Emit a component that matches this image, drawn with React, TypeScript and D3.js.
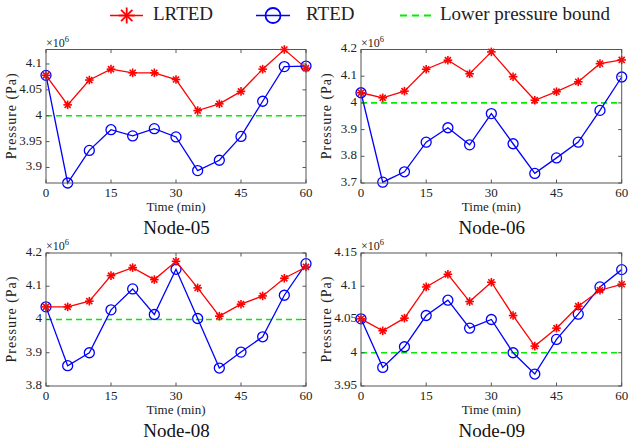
import React from "react";
import * as d3 from "d3";

const times = [0, 5, 10, 15, 20, 25, 30, 35, 40, 45, 50, 55, 60];
const xTicks = [0, 15, 30, 45, 60];

const nodeNames = ["Node-05", "Node-06", "Node-08", "Node-09"];

const lrted05 = [4.078, 4.021, 4.069, 4.09, 4.083, 4.083, 4.07, 4.01, 4.023, 4.047, 4.09, 4.128, 4.092];
const rted05 = [4.078, 3.87, 3.933, 3.973, 3.961, 3.975, 3.959, 3.894, 3.914, 3.96, 4.028, 4.095, 4.096];

const lrted06 = [4.038, 4.019, 4.044, 4.126, 4.16, 4.109, 4.191, 4.098, 4.01, 4.042, 4.079, 4.147, 4.161];
const rted06 = [4.038, 3.703, 3.742, 3.853, 3.907, 3.843, 3.96, 3.847, 3.736, 3.794, 3.853, 3.972, 4.097];

const lrted08 = [4.038, 4.038, 4.055, 4.132, 4.156, 4.12, 4.175, 4.095, 4.01, 4.046, 4.071, 4.124, 4.158];
const rted08 = [4.038, 3.861, 3.9, 4.029, 4.092, 4.015, 4.151, 4.003, 3.854, 3.902, 3.948, 4.073, 4.168];

const lrted09 = [4.051, 4.033, 4.052, 4.099, 4.118, 4.077, 4.106, 4.056, 4.01, 4.037, 4.07, 4.094, 4.103];
const rted09 = [4.051, 3.978, 4.009, 4.056, 4.079, 4.037, 4.05, 4.0, 3.968, 4.02, 4.058, 4.099, 4.125];

const lowerBound = 4.0;

const yDomains: [number, number][] = [
  [3.87, 4.128],
  [3.7, 4.2],
  [3.8, 4.2],
  [3.95, 4.15],
];

const yTicks = [
  [3.9, 3.95, 4, 4.05, 4.1],
  [3.7, 3.8, 3.9, 4, 4.1, 4.2],
  [3.8, 3.9, 4, 4.1, 4.2],
  [3.95, 4, 4.05, 4.1, 4.15],
];

const lrtedSeries = [lrted05, lrted06, lrted08, lrted09];
const rtedSeries = [rted05, rted06, rted08, rted09];

const legendLabels = ["LRTED", "RTED", "Lower pressure bound"];

const RED = "#ff0000";
const BLUE = "#0000ff";
const GREEN = "#00ee00";
const AXIS = "#555555";
const TEXT = "#222222";
const FONT = "'Liberation Serif', 'Times New Roman', serif";

const panelBoxes = [
  { left: 46, top: 49.5, width: 260, height: 133.5 },
  { left: 361, top: 49.5, width: 260.7, height: 133.5 },
  { left: 46, top: 253, width: 260, height: 133 },
  { left: 361, top: 253, width: 260.7, height: 133 },
];

function Star({ x, y, r, color, sw }: { x: number; y: number; r: number; color: string; sw: number }) {
  const arms = [0, 45, 90, 135].map((a) => {
    const rad = (a * Math.PI) / 180;
    const dx = Math.cos(rad) * r;
    const dy = Math.sin(rad) * r;
    return <line key={a} x1={x - dx} y1={y - dy} x2={x + dx} y2={y + dy} stroke={color} strokeWidth={sw} />;
  });
  return <g>{arms}</g>;
}

function fmt(v: number) {
  return String(+v.toFixed(2));
}

function Panel({ idx }: { idx: number }) {
  const b = panelBoxes[idx];
  const x = d3.scaleLinear().domain([0, 60]).range([b.left, b.left + b.width]);
  const y = d3.scaleLinear().domain(yDomains[idx]).range([b.top + b.height, b.top]);
  const line = d3
    .line<number>()
    .x((_, i) => x(times[i]))
    .y((d) => y(d));
  const lr = lrtedSeries[idx];
  const rt = rtedSeries[idx];
  const tl = 3.5;
  const bottom = b.top + b.height;
  const right = b.left + b.width;
  return (
    <g>
      <line
        x1={x(0)}
        x2={x(60)}
        y1={y(lowerBound)}
        y2={y(lowerBound)}
        stroke={GREEN}
        strokeWidth={1.6}
        strokeDasharray="6,4"
      />
      <path d={line(rt) || ""} fill="none" stroke={BLUE} strokeWidth={1.3} />
      {rt.map((v, i) => (
        <circle key={i} cx={x(times[i])} cy={y(v)} r={5} fill="none" stroke={BLUE} strokeWidth={1.3} />
      ))}
      <path d={line(lr) || ""} fill="none" stroke={RED} strokeWidth={1.3} />
      {lr.map((v, i) => (
        <Star key={i} x={x(times[i])} y={y(v)} r={4.3} color={RED} sw={1.6} />
      ))}
      <rect x={b.left} y={b.top} width={b.width} height={b.height} fill="none" stroke={AXIS} strokeWidth={1} />
      {xTicks.map((t) => (
        <g key={"x" + t}>
          <line x1={x(t)} x2={x(t)} y1={bottom} y2={bottom - tl} stroke={AXIS} strokeWidth={1} />
          <line x1={x(t)} x2={x(t)} y1={b.top} y2={b.top + tl} stroke={AXIS} strokeWidth={1} />
          <text
            x={x(t)}
            y={bottom + 11}
            textAnchor="middle"
            dominantBaseline="middle"
            fontFamily={FONT}
            fontSize={13}
            fill={TEXT}
          >
            {t}
          </text>
        </g>
      ))}
      {yTicks[idx].map((t) => (
        <g key={"y" + t}>
          <line x1={b.left} x2={b.left + tl} y1={y(t)} y2={y(t)} stroke={AXIS} strokeWidth={1} />
          <line x1={right} x2={right - tl} y1={y(t)} y2={y(t)} stroke={AXIS} strokeWidth={1} />
          <text
            x={b.left - 4}
            y={y(t)}
            textAnchor="end"
            dominantBaseline="middle"
            fontFamily={FONT}
            fontSize={13}
            fill={TEXT}
          >
            {fmt(t)}
          </text>
        </g>
      ))}
      <text x={b.left} y={b.top - 3} fontFamily={FONT} fontSize={12} fill={TEXT}>
        ×10
        <tspan dy={-5} fontSize={8.5}>
          6
        </tspan>
      </text>
      <text
        x={(b.left + right) / 2}
        y={bottom + 25}
        textAnchor="middle"
        dominantBaseline="middle"
        fontFamily={FONT}
        fontSize={13}
        fill={TEXT}
      >
        Time (min)
      </text>
      <text
        transform={`translate(${b.left - 33},${b.top + b.height / 2}) rotate(-90)`}
        textAnchor="middle"
        dominantBaseline="middle"
        fontFamily={FONT}
        fontSize={14}
        fill={TEXT}
        textLength={86}
        lengthAdjust="spacing"
      >
        Pressure (Pa)
      </text>
      <text
        x={(b.left + right) / 2 + 0.5}
        y={bottom + 47}
        textAnchor="middle"
        dominantBaseline="middle"
        fontFamily={FONT}
        fontSize={19}
        fill="#111"
      >
        {nodeNames[idx]}
      </text>
    </g>
  );
}

function Legend() {
  const cy = 15.5;
  return (
    <g>
      <line x1={110} x2={143} y1={cy} y2={cy} stroke={RED} strokeWidth={1.6} />
      <Star x={126.7} y={cy} r={8} color={RED} sw={1.8} />
      <text x={153} y={cy} dominantBaseline="middle" fontFamily={FONT} fontSize={19} fill={TEXT}>
        {legendLabels[0]}
      </text>
      <line x1={256} x2={290} y1={cy} y2={cy} stroke={BLUE} strokeWidth={1.6} />
      <circle cx={273} cy={cy} r={7.5} fill="none" stroke={BLUE} strokeWidth={1.8} />
      <text x={306} y={cy} dominantBaseline="middle" fontFamily={FONT} fontSize={19} fill={TEXT}>
        {legendLabels[1]}
      </text>
      <line
        x1={400}
        x2={433}
        y1={cy}
        y2={cy}
        stroke={GREEN}
        strokeWidth={1.8}
        strokeDasharray="7,5"
      />
      <text x={440} y={cy} dominantBaseline="middle" fontFamily={FONT} fontSize={19} fill={TEXT}>
        {legendLabels[2]}
      </text>
    </g>
  );
}

export default function App() {
  return (
    <div style={{ position: "fixed", left: 0, top: 0 }}>
      <svg width={631} height={446} style={{ display: "block", background: "#fff" }}>
        <Legend />
        {[0, 1, 2, 3].map((i) => (
          <Panel key={i} idx={i} />
        ))}
      </svg>
    </div>
  );
}
